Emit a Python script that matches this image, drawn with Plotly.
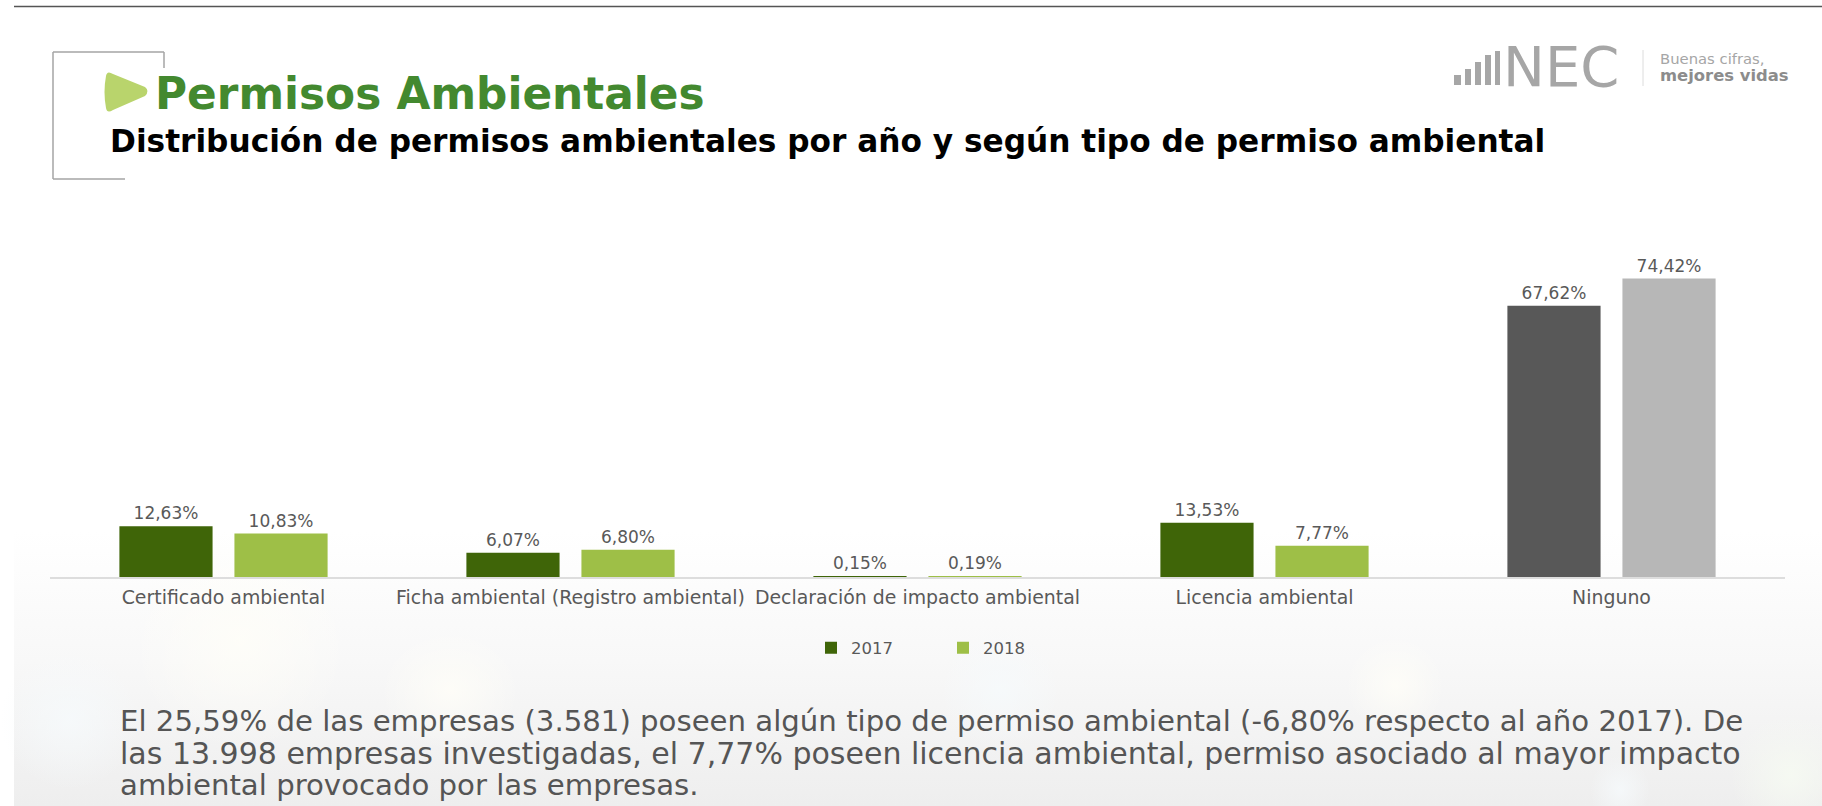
import base64
import plotly.graph_objects as go

W, H = 1822, 806

categories = ["Certificado ambiental", "Ficha ambiental (Registro ambiental)",
              "Declaración de impacto ambiental", "Licencia ambiental", "Ninguno"]
values_2017 = [12.63, 6.07, 0.15, 13.53, 67.62]
values_2018 = [10.83, 6.80, 0.19, 7.77, 74.42]
colors_2017 = ["#3f6508", "#3f6508", "#3f6508", "#3f6508", "#585858"]
colors_2018 = ["#9ebf47", "#9ebf47", "#9ebf47", "#9ebf47", "#b7b7b7"]

title = "Permisos Ambientales"
subtitle = "Distribución de permisos ambientales por año y según tipo de permiso ambiental"
body_lines = [
    "El 25,59% de las empresas (3.581) poseen algún tipo de permiso ambiental (-6,80% respecto al año 2017). De",
    "las 13.998 empresas investigadas, el 7,77% poseen licencia ambiental, permiso asociado al mayor impacto",
    "ambiental provocado por las empresas.",
]

FONT = "DejaVu Sans"


def fmt(v):
    return f"{v:.2f}%".replace(".", ",")


def px(x):
    return x / W


def py(y):
    return 1 - y / H


svg = f'''<svg xmlns="http://www.w3.org/2000/svg" width="{W}" height="{H}" viewBox="0 0 {W} {H}">
<defs>
<linearGradient id="g" x1="0" y1="0" x2="0" y2="1"><stop offset="0.66" stop-color="#ffffff"/><stop offset="0.82" stop-color="#f8f8f8"/><stop offset="1" stop-color="#eeeeee"/></linearGradient>
<radialGradient id="w"><stop offset="0" stop-color="#fffef8" stop-opacity="0.8"/><stop offset="1" stop-color="#fffef8" stop-opacity="0"/></radialGradient>
<radialGradient id="b"><stop offset="0" stop-color="#f6fafc" stop-opacity="0.8"/><stop offset="1" stop-color="#f6fafc" stop-opacity="0"/></radialGradient>
<radialGradient id="c"><stop offset="0" stop-color="#f6faf2" stop-opacity="0.9"/><stop offset="1" stop-color="#f6faf2" stop-opacity="0"/></radialGradient>
</defs>
<rect x="14" y="0" width="{W-14}" height="{H}" fill="url(#g)"/>
<ellipse cx="240" cy="640" rx="110" ry="110" fill="url(#w)"/>
<ellipse cx="70" cy="720" rx="70" ry="70" fill="url(#b)"/>
<ellipse cx="450" cy="690" rx="70" ry="60" fill="url(#w)"/>
<ellipse cx="1000" cy="690" rx="60" ry="60" fill="url(#b)"/>
<ellipse cx="1395" cy="685" rx="50" ry="50" fill="url(#w)"/>
<ellipse cx="1790" cy="775" rx="60" ry="60" fill="url(#c)"/>
<ellipse cx="1620" cy="790" rx="30" ry="35" fill="url(#b)"/>
</svg>'''
bg = "data:image/svg+xml;base64," + base64.b64encode(svg.encode()).decode()

fig = go.Figure()
fig.add_bar(name="2017", x=categories, y=values_2017, marker=dict(color=colors_2017, line_width=0),
            text=[fmt(v) for v in values_2017], textposition="outside", cliponaxis=False,
            textfont=dict(family=FONT, size=17, color="#595959"))
fig.add_bar(name="2018", x=categories, y=values_2018, marker=dict(color=colors_2018, line_width=0),
            text=[fmt(v) for v in values_2018], textposition="outside", cliponaxis=False,
            textfont=dict(family=FONT, size=17, color="#595959"))

PLOT_L, PLOT_R, PLOT_T, AXIS_Y = 50, 1785, 200, 577
PER_UNIT = 4.01

annotations = [
    dict(text=title, x=px(153), y=py(93), xanchor="left", yanchor="middle",
         font=dict(family=FONT, size=43.8, color="#43892f", weight="bold")),
    dict(text=subtitle, x=px(108), y=py(141), xanchor="left", yanchor="middle",
         font=dict(family=FONT, size=31.2, color="#000000", weight="bold")),
    dict(text=body_lines[0], x=px(118), y=py(721), xanchor="left", yanchor="middle",
         font=dict(family=FONT, size=29.2, color="#555555")),
    dict(text=body_lines[1], x=px(118), y=py(753), xanchor="left", yanchor="middle",
         font=dict(family=FONT, size=30, color="#555555")),
    dict(text=body_lines[2], x=px(118), y=py(785), xanchor="left", yanchor="middle",
         font=dict(family=FONT, size=29.2, color="#555555")),
    dict(text="NEC", x=px(1501), y=py(67), xanchor="left", yanchor="middle",
         font=dict(family=FONT, size=56, color="#a6a6a6")),
    dict(text="Buenas cifras,", x=px(1658), y=py(59), xanchor="left", yanchor="middle",
         font=dict(family=FONT, size=14.8, color="#a6a6a6")),
    dict(text="mejores vidas", x=px(1658), y=py(75), xanchor="left", yanchor="middle",
         font=dict(family=FONT, size=16.4, color="#8c8c8c", weight="bold")),
]
for a in annotations:
    a.update(xref="paper", yref="paper", showarrow=False)


def rect(x0, y0, x1, y1, color):
    return dict(type="rect", xref="paper", yref="paper", x0=px(x0), x1=px(x1), y0=py(y0), y1=py(y1),
                fillcolor=color, line_width=0, layer="above")


def line(x0, y0, x1, y1, color, w=1.5):
    return dict(type="line", xref="paper", yref="paper", x0=px(x0), x1=px(x1), y0=py(y0), y1=py(y1),
                line=dict(color=color, width=w), layer="above")


shapes = [
    line(14, 6.5, W, 6.5, "#555555"),
    line(53, 52, 164, 52, "#a5a5a5"), line(53, 52, 53, 179, "#a5a5a5"),
    line(53, 179, 125, 179, "#a5a5a5"), line(164, 52, 164, 68, "#a5a5a5"),
    dict(type="path", xref="paper", yref="paper", fillcolor="#b9d46c", line_width=0,
         path=(f"M {px(106)} {py(76)} Q {px(107)} {py(70)} {px(113)} {py(74)} "
               f"L {px(145)} {py(87)} Q {px(150)} {py(91)} {px(145)} {py(96)} "
               f"L {px(113)} {py(110)} Q {px(107)} {py(114)} {px(106)} {py(108)} "
               f"Q {px(103)} {py(92)} {px(106)} {py(76)} Z")),
    rect(1454, 75, 1461, 85, "#a6a6a6"), rect(1465, 69, 1471, 85, "#a6a6a6"),
    rect(1475, 62, 1481, 85, "#a6a6a6"), rect(1485, 55, 1491, 85, "#a6a6a6"),
    rect(1495, 51, 1500, 85, "#a6a6a6"),
    line(1643, 50, 1643, 86, "#dcdcdc", 1),
]

fig.update_layout(
    width=W, height=H, autosize=False,
    margin=dict(l=0, r=0, t=0, b=0),
    paper_bgcolor="#ffffff", plot_bgcolor="rgba(0,0,0,0)",
    barmode="group", bargap=0.337, bargroupgap=0.19,
    font=dict(family=FONT, color="#595959"),
    images=[dict(source=bg, xref="paper", yref="paper", x=0, y=1, sizex=1, sizey=1,
                 sizing="stretch", layer="below", xanchor="left", yanchor="top")],
    annotations=annotations, shapes=shapes,
    xaxis=dict(domain=[px(PLOT_L), px(PLOT_R)], showline=True, linecolor="#dddddd", linewidth=1.5,
               ticks="", tickangle=0, tickfont=dict(family=FONT, size=18.9, color="#595959"),
               showgrid=False, automargin=False, ticklabelstandoff=3),
    yaxis=dict(domain=[py(AXIS_Y), py(PLOT_T)], range=[0, (AXIS_Y - PLOT_T) / PER_UNIT], visible=False,
               showgrid=False, zeroline=False),
    legend=dict(orientation="h", x=px(811), y=py(648), xanchor="left", yanchor="middle",
                font=dict(family=FONT, size=16.5, color="#595959"), bgcolor="rgba(0,0,0,0)",
                itemwidth=30, entrywidth=87, entrywidthmode="pixels",
                itemclick=False, itemdoubleclick=False),
    showlegend=True,
)
fig.write_html("out.html", config=dict(displayModeBar=False),
               post_script="document.body.style.margin='0';document.documentElement.style.overflow='hidden';")
